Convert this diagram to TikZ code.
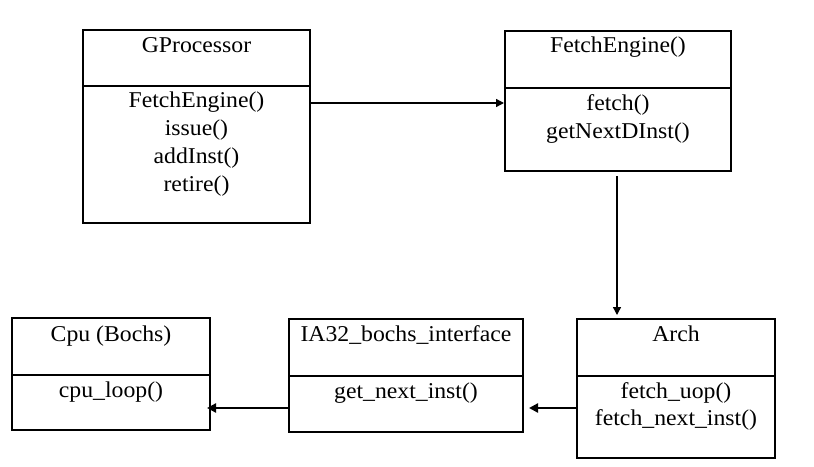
\documentclass[tikz,border=0pt]{standalone}
\usepackage{fontspec}
\setmainfont{Liberation Serif}[FakeStretch=1.05]
\usetikzlibrary{arrows.meta}
\tikzset{
  umlbox/.style={draw=black, line width=2pt, rectangle, inner sep=0pt},
  divider/.style={draw=black, line width=1.8pt},
  txt/.style={anchor=base, inner sep=0pt, font=\fontsize{22.6}{27.5}\selectfont},
  arr/.style={draw=black, line width=1.4pt, -{Triangle[length=8pt,width=8pt]}},
  arrthick/.style={draw=black, line width=2.6pt, -{Triangle[length=9pt,width=9pt]}}
}
\begin{document}
\begin{tikzpicture}[x=1pt,y=-1pt]
\useasboundingbox (0,0) rectangle (814,466);
% GProcessor
\node[umlbox, minimum width=227pt, minimum height=193pt] (gp) at (196.5,126.5) {};
\draw[divider] (gp.west |- 0,86) -- (gp.east |- 0,86);
\node[txt] (gpt) at (196.5,52) {GProcessor};
\node[txt] (gpm1) at (196.5,107) {FetchEngine()};
\node[txt] (gpm2) at (196.5,135) {issue()};
\node[txt] (gpm3) at (196.5,163) {addInst()};
\node[txt] (gpm4) at (196.5,191) {retire()};
% FetchEngine
\node[umlbox, minimum width=226pt, minimum height=140pt] (fe) at (618,101) {};
\draw[divider] (fe.west |- 0,88) -- (fe.east |- 0,88);
\node[txt] (fet) at (618,52) {FetchEngine()};
\node[txt] (fem1) at (618,110) {fetch()};
\node[txt] (fem2) at (618,138) {getNextDInst()};
% Arch
\node[umlbox, minimum width=198pt, minimum height=139pt] (arch) at (676,388.5) {};
\draw[divider] (arch.west |- 0,376) -- (arch.east |- 0,376);
\node[txt] (archt) at (676,341) {Arch};
\node[txt] (archm1) at (676,398) {fetch\_uop()};
\node[txt] (archm2) at (676,425) {fetch\_next\_inst()};
% IA32_bochs_interface
\node[umlbox, minimum width=234pt, minimum height=113pt] (ia) at (406,375.5) {};
\draw[divider] (ia.west |- 0,376) -- (ia.east |- 0,376);
\node[txt] (iat) at (406,341) {IA32\_bochs\_interface};
\node[txt] (iam1) at (406,398) {get\_next\_inst()};
% Cpu (Bochs)
\node[umlbox, minimum width=198pt, minimum height=112pt] (cpu) at (111,374) {};
\draw[divider] (cpu.west |- 0,375) -- (cpu.east |- 0,375);
\node[txt] (cput) at (111,341) {Cpu (Bochs)};
\node[txt] (cpum1) at (111,397) {cpu\_loop()};
% connectors
\draw[arr] (gp.east |- 0,103) -- (fe.west |- 0,103);
\draw[arr, shorten <=4pt, shorten >=3pt] (617,0 |- fe.south) -- (617,0 |- arch.north);
\draw[arrthick, shorten >=5pt] (arch.west |- 0,408) -- (ia.east |- 0,408);
\draw[arrthick, shorten >=-4pt] (ia.west |- 0,408) -- (cpu.east |- 0,408);
\end{tikzpicture}
\end{document}
